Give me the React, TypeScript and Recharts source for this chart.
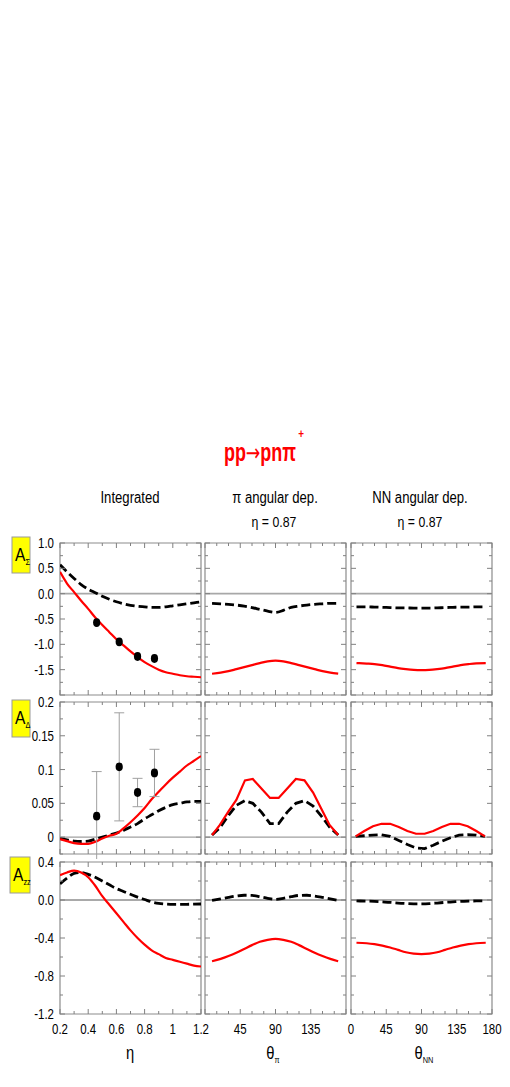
import React from 'react';
import {
  ComposedChart,
  Line,
  Scatter,
  ErrorBar,
  XAxis,
  YAxis,
  ReferenceLine,
  ReferenceArea,
} from 'recharts';

const FONT = '"Liberation Sans", Arial, sans-serif';
const SX = 0.82; // narrow look

// ---------- x grids ----------
const etaGrid = [0.2, 0.25, 0.3, 0.35, 0.4, 0.45, 0.5, 0.55, 0.6, 0.65, 0.7, 0.75, 0.8, 0.85, 0.9, 0.95, 1.0, 1.05, 1.1, 1.15, 1.2];
const thPiGrid = [9, 20, 30, 40, 50, 60, 70, 80, 90, 100, 110, 120, 130, 140, 150, 160, 170];
const thNNGrid = [7, 20, 30, 40, 50, 60, 70, 80, 90, 100, 110, 120, 130, 140, 150, 160, 172];
const thPiGridD = [9, 19, 30, 40, 51, 61, 72, 83, 94, 105, 116, 127, 138, 148, 159, 170];
const thNNGridD = [6, 17, 28, 39, 50, 61, 72, 83, 94, 105, 116, 127, 138, 149, 160, 171];

// ---------- A_Sigma ----------
const aSigEtaRed = [0.43, 0.2, 0.03, -0.14, -0.3, -0.47, -0.62, -0.76, -0.9, -1.02, -1.14, -1.25, -1.35, -1.43, -1.5, -1.55, -1.58, -1.61, -1.63, -1.64, -1.65];
const aSigEtaBlack = [0.57, 0.43, 0.3, 0.18, 0.09, 0.02, -0.05, -0.11, -0.16, -0.2, -0.23, -0.25, -0.26, -0.27, -0.27, -0.26, -0.24, -0.22, -0.2, -0.18, -0.16];
const aSigPiRed = [-1.58, -1.56, -1.53, -1.49, -1.45, -1.41, -1.37, -1.335, -1.32, -1.335, -1.37, -1.41, -1.45, -1.49, -1.53, -1.56, -1.58];
const aSigPiBlack = [-0.19, -0.2, -0.21, -0.225, -0.245, -0.275, -0.31, -0.345, -0.37, -0.33, -0.27, -0.245, -0.225, -0.21, -0.2, -0.19, -0.19];
const aSigNNRed = [-1.37, -1.38, -1.39, -1.41, -1.44, -1.47, -1.49, -1.505, -1.51, -1.505, -1.49, -1.47, -1.44, -1.41, -1.39, -1.375, -1.37];
const aSigNNBlack = [-0.26, -0.26, -0.265, -0.27, -0.275, -0.28, -0.28, -0.285, -0.285, -0.285, -0.28, -0.275, -0.27, -0.265, -0.265, -0.26, -0.26];
const aSigExpEta = [0.46, 0.62, 0.75, 0.87];
const aSigExpVal = [-0.57, -0.95, -1.24, -1.28];

// ---------- A_Delta ----------
const aDelEtaRed = [-0.003, -0.006, -0.009, -0.01, -0.01, -0.007, -0.002, 0.002, 0.005, 0.013, 0.022, 0.032, 0.043, 0.056, 0.067, 0.078, 0.088, 0.097, 0.106, 0.113, 0.12];
const aDelEtaBlack = [-0.002, -0.004, -0.006, -0.0065, -0.006, -0.003, 0.0, 0.003, 0.006, 0.01, 0.015, 0.02, 0.027, 0.033, 0.039, 0.044, 0.048, 0.05, 0.052, 0.053, 0.053];
const aDelPiRed = [0.003, 0.018, 0.038, 0.055, 0.084, 0.086, 0.072, 0.058, 0.058, 0.072, 0.086, 0.084, 0.066, 0.043, 0.018, 0.003];
const aDelPiBlack = [0.003, 0.014, 0.032, 0.047, 0.054, 0.05, 0.037, 0.02, 0.02, 0.037, 0.05, 0.054, 0.046, 0.032, 0.015, 0.003];
const aDelNNRed = [0.001, 0.009, 0.016, 0.0197, 0.0197, 0.015, 0.009, 0.005, 0.005, 0.009, 0.015, 0.0197, 0.0197, 0.016, 0.009, 0.001];
const aDelNNBlack = [0.001, 0.002, 0.003, 0.0035, 0.001, -0.005, -0.011, -0.016, -0.017, -0.012, -0.006, -0.001, 0.003, 0.0035, 0.003, 0.001];
const aDelExpEta = [0.46, 0.62, 0.75, 0.87];
const aDelExpVal = [0.031, 0.104, 0.066, 0.095];
const aDelExpErr = [0.066, 0.08, 0.021, 0.035];

// ---------- A_zz ----------
const aZZEtaRed = [0.26, 0.29, 0.31, 0.29, 0.24, 0.15, 0.04, -0.05, -0.14, -0.23, -0.32, -0.4, -0.47, -0.53, -0.57, -0.61, -0.63, -0.65, -0.67, -0.69, -0.7];
const aZZEtaBlack = [0.17, 0.23, 0.28, 0.29, 0.27, 0.24, 0.2, 0.16, 0.12, 0.09, 0.06, 0.03, 0.005, -0.02, -0.035, -0.042, -0.045, -0.045, -0.045, -0.043, -0.042];
const aZZPiRed = [-0.645, -0.62, -0.59, -0.555, -0.515, -0.475, -0.44, -0.42, -0.41, -0.42, -0.44, -0.475, -0.515, -0.555, -0.59, -0.62, -0.645];
const aZZPiBlack = [-0.005, 0.012, 0.028, 0.042, 0.05, 0.048, 0.035, 0.018, 0.007, 0.018, 0.035, 0.048, 0.05, 0.042, 0.028, 0.012, -0.005];
const aZZNNRed = [-0.45, -0.455, -0.465, -0.48, -0.5, -0.525, -0.55, -0.565, -0.57, -0.565, -0.55, -0.525, -0.5, -0.48, -0.465, -0.455, -0.45];
const aZZNNBlack = [-0.01, -0.012, -0.015, -0.02, -0.025, -0.032, -0.037, -0.04, -0.04, -0.038, -0.032, -0.025, -0.02, -0.015, -0.012, -0.01, -0.01];

// ---------- axes ticks ----------
const etaTicks = [0.2, 0.3, 0.4, 0.5, 0.6, 0.7, 0.8, 0.9, 1.0, 1.1, 1.2];
const etaMajor = [0.2, 0.4, 0.6, 0.8, 1.0, 1.2];
const etaLabels: Record<string, string> = { '0.2': '0.2', '0.4': '0.4', '0.6': '0.6', '0.8': '0.8', '1': '1', '1.2': '1.2' };
const angTicks = [0, 15, 30, 45, 60, 75, 90, 105, 120, 135, 150, 165, 180];
const angMajor = [0, 45, 90, 135, 180];
const piLabels: Record<string, string> = { '45': '45', '90': '90', '135': '135' };
const nnLabels: Record<string, string> = { '0': '0', '45': '45', '90': '90', '135': '135', '180': '180' };

const sigTicks = [-2, -1.75, -1.5, -1.25, -1, -0.75, -0.5, -0.25, 0, 0.25, 0.5, 0.75, 1];
const sigMajor = [-2, -1.5, -1, -0.5, 0, 0.5, 1];
const sigLabels: Record<string, string> = { '-1.5': '-1.5', '-1': '-1.0', '-0.5': '-0.5', '0': '0.0', '0.5': '0.5', '1': '1.0' };
const delTicks = [-0.025, 0, 0.025, 0.05, 0.075, 0.1, 0.125, 0.15, 0.175, 0.2];
const delMajor = [0, 0.05, 0.1, 0.15, 0.2];
const delLabels: Record<string, string> = { '0': '0', '0.05': '0.05', '0.1': '0.1', '0.15': '0.15', '0.2': '0.2' };
const zzTicks = [-1.2, -1, -0.8, -0.6, -0.4, -0.2, 0, 0.2, 0.4];
const zzMajor = [-1.2, -0.8, -0.4, 0, 0.4];
const zzLabels: Record<string, string> = { '-1.2': '-1.2', '-0.8': '-0.8', '-0.4': '-0.4', '0': '0.0', '0.4': '0.4' };

// ---------- layout ----------
const COL_LEFT = [60, 205, 350.5];
const ROW_TOP = [543, 702, 862];
const PW = 141;
const PH = 152;
const TICK_COLOR = '#808080';

const buildTable = (xs: number[], red: number[], black: number[]) =>
  xs.map((x, i) => ({ x, red: red[i], black: black[i] }));

const buildPoints = (xs: number[], ys: number[], errs?: number[]) =>
  xs.map((x, i) => ({ x, y: ys[i], err: errs ? errs[i] : 0 }));

type ColCfg = {
  domain: [number, number];
  ticks: number[];
  major: number[];
  labels: Record<string, string>;
};
type RowCfg = {
  domain: [number, number];
  ticks: number[];
  major: number[];
  labels: Record<string, string>;
  zeroColor: string;
  zeroWidth: number;
};

const COLS: ColCfg[] = [
  { domain: [0.2, 1.2], ticks: etaTicks, major: etaMajor, labels: etaLabels },
  { domain: [0, 180], ticks: angTicks, major: angMajor, labels: piLabels },
  { domain: [0, 180], ticks: angTicks, major: angMajor, labels: nnLabels },
];
const ROWS: RowCfg[] = [
  { domain: [-2, 1], ticks: sigTicks, major: sigMajor, labels: sigLabels, zeroColor: '#a8a8a8', zeroWidth: 1.6 },
  { domain: [-0.025, 0.2], ticks: delTicks, major: delMajor, labels: delLabels, zeroColor: '#a0a0a0', zeroWidth: 1.4 },
  { domain: [-1.2, 0.4], ticks: zzTicks, major: zzMajor, labels: zzLabels, zeroColor: '#555555', zeroWidth: 1 },
];

const near = (arr: number[], v: number) => arr.some((a) => Math.abs(a - v) < 1e-9);

function NText({ x, y, anchor, size, children, weight, fill, sx }: { x: number; y: number; anchor: 'start' | 'middle' | 'end'; size: number; children: React.ReactNode; weight?: string; fill?: string; sx?: number }) {
  return (
    <text
      transform={`translate(${x},${y}) scale(${sx ?? SX},1)`}
      x={0}
      y={0}
      textAnchor={anchor}
      fontFamily={FONT}
      fontSize={size}
      fontWeight={weight || 'normal'}
      fill={fill || '#000'}
    >
      {children}
    </text>
  );
}

const makeXTick = (cfg: ColCfg, showLabels: boolean) => (props: any) => {
  const { x, y, payload } = props;
  const v = payload.value as number;
  const len = near(cfg.major, v) ? 5 : 3;
  const lab = showLabels ? cfg.labels[String(v)] : undefined;
  return (
    <g>
      <line x1={x} y1={y} x2={x} y2={y - len} stroke={TICK_COLOR} strokeWidth={1} />
      <line x1={x} y1={y - PH} x2={x} y2={y - PH + len} stroke={TICK_COLOR} strokeWidth={1} />
      {lab !== undefined && (
        <NText x={x} y={y + 20} anchor="middle" size={14}>
          {lab}
        </NText>
      )}
    </g>
  );
};

const makeYTick = (cfg: RowCfg, showLabels: boolean) => (props: any) => {
  const { x, y, payload } = props;
  const v = payload.value as number;
  const len = near(cfg.major, v) ? 5 : 3;
  const lab = showLabels ? cfg.labels[String(v)] : undefined;
  return (
    <g>
      <line x1={x} y1={y} x2={x + len} y2={y} stroke={TICK_COLOR} strokeWidth={1} />
      <line x1={x + PW} y1={y} x2={x + PW - len} y2={y} stroke={TICK_COLOR} strokeWidth={1} />
      {lab !== undefined && (
        <NText x={x - 6} y={y + 5} anchor="end" size={14}>
          {lab}
        </NText>
      )}
    </g>
  );
};

type PanelProps = {
  row: number;
  col: number;
  table: { x: number; red: number; black: number }[];
  lineType: 'monotone' | 'linear';
  points?: { x: number; y: number; err: number }[];
  withErr?: boolean;
};

function Panel({ row, col, table, lineType, points, withErr }: PanelProps) {
  const c = COLS[col];
  const r = ROWS[row];
  const ML = col === 0 ? 55 : 5;
  const MR = 20;
  const MT = 12;
  const MB = row === 2 ? 40 : 5;
  return (
    <div style={{ position: 'absolute', left: COL_LEFT[col] - ML, top: ROW_TOP[row] - MT }}>
      <ComposedChart
        width={PW + ML + MR}
        height={PH + MT + MB}
        data={table}
        margin={{ top: MT, right: MR, bottom: MB - 1, left: ML - 1 }}
      >
        <XAxis
          dataKey="x"
          type="number"
          domain={c.domain}
          ticks={c.ticks}
          interval={0}
          allowDataOverflow
          height={1}
          tickSize={0}
          tickMargin={0}
          tickLine={false}
          axisLine={false}
          tick={makeXTick(c, row === 2)}
        />
        <YAxis
          type="number"
          domain={r.domain}
          ticks={r.ticks}
          interval={0}
          allowDataOverflow
          width={1}
          tickSize={0}
          tickMargin={0}
          tickLine={false}
          axisLine={false}
          tick={makeYTick(r, col === 0)}
        />
        <ReferenceArea
          x1={c.domain[0]}
          x2={c.domain[1]}
          y1={r.domain[0]}
          y2={r.domain[1]}
          fill="none"
          fillOpacity={0}
          stroke="#8c8c8c"
          strokeWidth={1.2}
        />
        <ReferenceLine y={0} stroke={r.zeroColor} strokeWidth={r.zeroWidth} />
        <Line
          dataKey="black"
          type={lineType}
          stroke="#000"
          strokeWidth={2.8}
          strokeDasharray="9 4"
          dot={false}
          isAnimationActive={false}
        />
        <Line
          dataKey="red"
          type={lineType}
          stroke="#ff0000"
          strokeWidth={2.2}
          dot={false}
          isAnimationActive={false}
        />
        {points && (
          <Scatter
            data={points}
            dataKey="y"
            fill="#000"
            isAnimationActive={false}
            shape={(p: any) => <ellipse cx={p.cx} cy={p.cy} rx={3.6} ry={4.4} fill="#000" />}
          >
            {withErr && (
              <ErrorBar dataKey="err" direction="y" width={5} stroke="#a0a0a0" strokeWidth={1} isAnimationActive={false} />
            )}
          </Scatter>
        )}
      </ComposedChart>
    </div>
  );
}

function YBox({ x, y, w, h, sub }: { x: number; y: number; w: number; h: number; sub: string }) {
  return (
    <g>
      <rect x={x} y={y} width={w} height={h} fill="#ffff00" stroke="#9a9a9a" strokeWidth={1} />
      <NText x={x + 3} y={y + 24} anchor="start" size={19}>
        A<tspan fontSize={9} dy={4}>{sub}</tspan>
      </NText>
    </g>
  );
}

export default function App() {
  return (
    <div style={{ position: 'absolute', left: 0, top: 0, width: 510, height: 1087, background: '#fff' }}>
      <Panel row={0} col={0} table={buildTable(etaGrid, aSigEtaRed, aSigEtaBlack)} lineType="monotone" points={buildPoints(aSigExpEta, aSigExpVal)} />
      <Panel row={0} col={1} table={buildTable(thPiGrid, aSigPiRed, aSigPiBlack)} lineType="monotone" />
      <Panel row={0} col={2} table={buildTable(thNNGrid, aSigNNRed, aSigNNBlack)} lineType="monotone" />
      <Panel row={1} col={0} table={buildTable(etaGrid, aDelEtaRed, aDelEtaBlack)} lineType="monotone" points={buildPoints(aDelExpEta, aDelExpVal, aDelExpErr)} withErr />
      <Panel row={1} col={1} table={buildTable(thPiGridD, aDelPiRed, aDelPiBlack)} lineType="linear" />
      <Panel row={1} col={2} table={buildTable(thNNGridD, aDelNNRed, aDelNNBlack)} lineType="linear" />
      <Panel row={2} col={0} table={buildTable(etaGrid, aZZEtaRed, aZZEtaBlack)} lineType="monotone" />
      <Panel row={2} col={1} table={buildTable(thPiGrid, aZZPiRed, aZZPiBlack)} lineType="monotone" />
      <Panel row={2} col={2} table={buildTable(thNNGrid, aZZNNRed, aZZNNBlack)} lineType="monotone" />

      <svg width={510} height={1087} style={{ position: 'absolute', left: 0, top: 0, pointerEvents: 'none' }}>
        <NText x={260} y={461} anchor="middle" size={25} weight="bold" fill="#ff0000" sx={0.72}>
          pp<tspan fontFamily='"DejaVu Sans", sans-serif' fontWeight="normal" fontSize={24}>→</tspan>pnπ
        </NText>
        <NText x={301} y={438} anchor="middle" size={12} weight="bold" fill="#ff0000">
          +
        </NText>

        <NText x={130} y={503} anchor="middle" size={16}>Integrated</NText>
        <NText x={275} y={503} anchor="middle" size={16}>π angular dep.</NText>
        <NText x={274} y={527} anchor="middle" size={15}>η = 0.87</NText>
        <NText x={420} y={503} anchor="middle" size={16}>NN angular dep.</NText>
        <NText x={420} y={527} anchor="middle" size={15}>η = 0.87</NText>

        <YBox x={12} y={537} w={18} h={36} sub="Σ" />
        <YBox x={12} y={700} w={18} h={37} sub="Δ" />
        <YBox x={10} y={857} w={20} h={36} sub="zz" />

        <NText x={130} y={1059} anchor="middle" size={18}>η</NText>
        <NText x={273} y={1059} anchor="middle" size={18}>
          θ<tspan fontSize={9} dy={4}>π</tspan>
        </NText>
        <NText x={424} y={1059} anchor="middle" size={18}>
          θ<tspan fontSize={9} dy={4}>NN</tspan>
        </NText>
      </svg>
    </div>
  );
}
